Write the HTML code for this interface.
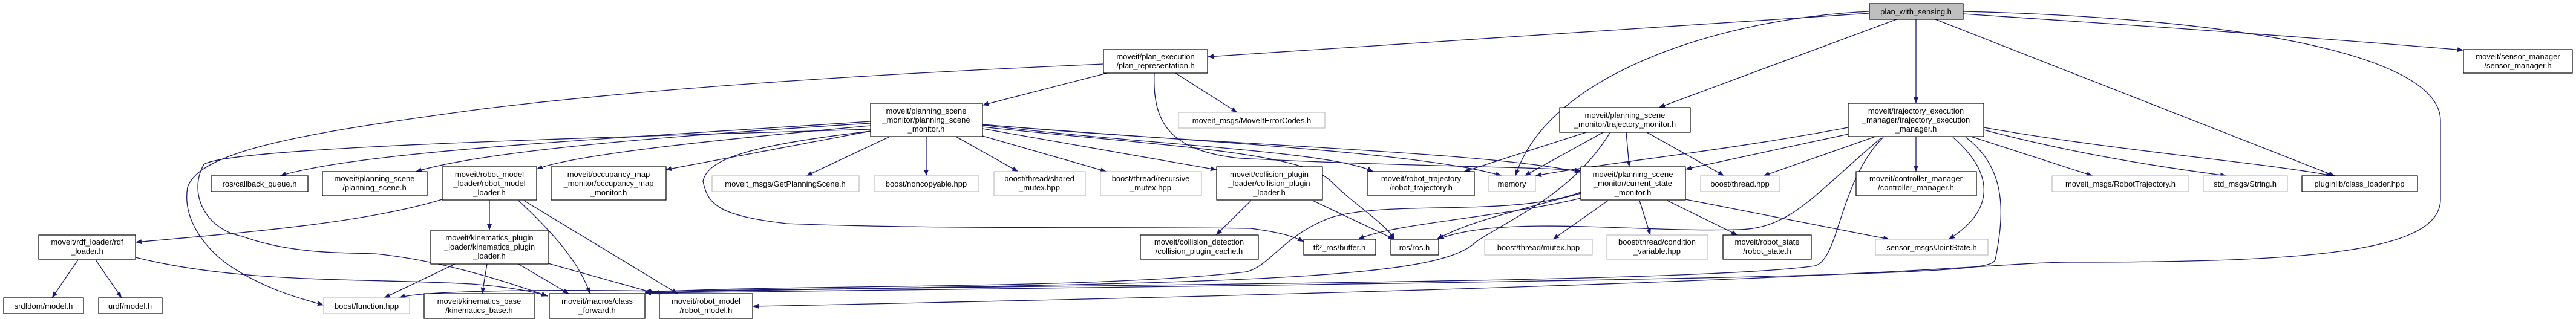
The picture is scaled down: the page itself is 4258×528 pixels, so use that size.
<!DOCTYPE html>
<html><head><meta charset="utf-8"><style>
html,body{margin:0;padding:0;background:#fff;}
svg{display:block;}
text{font-family:"Liberation Sans",sans-serif;font-size:13px;fill:#000;text-anchor:middle;}
.b{fill:#fff;stroke:#000;stroke-width:1.2;}
.g{fill:#fff;stroke:#bfbfbf;stroke-width:1.2;}
.e{fill:none;stroke:#191970;stroke-width:1.3;}
</style></head><body>
<svg width="4258" height="528" viewBox="0 0 4258 528" xmlns="http://www.w3.org/2000/svg">
<defs><marker id="a" markerWidth="10" markerHeight="8" refX="10" refY="4" orient="auto" markerUnits="userSpaceOnUse"><path d="M0,0 L10,4 L0,8 z" fill="#191970"/></marker></defs>
<g class="edges" marker-end="url(#a)">
<!-- from plan_with_sensing -->
<path class="e" d="M3090,22 L1996,94"/>
<path class="e" d="M3090,19 C2850,30 2560,120 2505,291"/>
<path class="e" d="M3135,32 L2742,178"/>
<path class="e" d="M3167,32 L3167,171"/>
<path class="e" d="M3199,32 L3859,291"/>
<path class="e" d="M3245,23 C3500,40 3800,60 4072,83"/>
<path class="e" d="M3245,19 C3700,30 4034,90 4034,200 L4034,330 C4034,420 3800,434 3420,434 C3300,434 3100,470 1244,507"/>
<!-- from trajectory execution manager -->
<path class="e" d="M3167,226 L3167,284"/>
<path class="e" d="M3258,226 L3459,291"/>
<path class="e" d="M3279,215 C3450,260 3600,280 3680,291"/>
<path class="e" d="M3279,211 C3500,250 3750,270 3855,291"/>
<path class="e" d="M3228,227 C3300,290 3295,350 3221,396"/>
<path class="e" d="M3249,227 C3320,280 3312,360 3298,430 C3290,450 3220,460 1066,485"/>
<path class="e" d="M3113,227 C3040,300 3040,430 3000,440 C2800,470 1700,470 1080,484"/>
<path class="e" d="M3055,211 C2850,250 2650,270 2538,291"/>
<path class="e" d="M3055,222 L2786,280"/>
<path class="e" d="M3100,226 L2915,291"/>
<path class="e" d="M3110,228 C3000,320 2960,380 2871,380 C2700,385 2480,355 2377,396"/>
<!-- from trajectory monitor -->
<path class="e" d="M2622,219 L2420,284"/>
<path class="e" d="M2650,219 L2520,291"/>
<path class="e" d="M2688,219 L2693,276"/>
<path class="e" d="M2722,219 L2850,291"/>
<path class="e" d="M2661,220 C2600,320 2500,360 2440,400 C2380,460 2100,470 1066,482"/>
<!-- from current state monitor -->
<path class="e" d="M2658,332 L2567,396"/>
<path class="e" d="M2710,332 L2728,389"/>
<path class="e" d="M2756,332 L2872,389"/>
<path class="e" d="M2786,330 L3123,396"/>
<path class="e" d="M2613,320 C2500,350 2420,370 2375,396"/>
<path class="e" d="M2613,328 C2480,360 2300,370 2245,396"/>
<path class="e" d="M2613,318 C2500,360 2300,330 2200,360 C2120,390 2100,440 2060,450 C1800,480 1300,470 1066,484"/>
<!-- from planning scene monitor -->
<path class="e" d="M1439,201 C1000,230 600,250 463,291"/>
<path class="e" d="M1439,204 C1100,225 800,250 687,284"/>
<path class="e" d="M1439,208 C1200,230 950,255 887,280"/>
<path class="e" d="M1439,217 L1100,281"/>
<path class="e" d="M1471,226 L1333,291"/>
<path class="e" d="M1531,226 L1531,291"/>
<path class="e" d="M1580,226 L1683,284"/>
<path class="e" d="M1624,225 L1829,284"/>
<path class="e" d="M1624,213 L2011,281"/>
<path class="e" d="M1624,207 C1900,240 2200,250 2270,284"/>
<path class="e" d="M1624,206 C1900,230 2350,250 2482,291"/>
<path class="e" d="M1624,206 C2000,240 2450,250 2613,285"/>
<path class="e" d="M1624,210 C1900,240 2150,250 2200,300 C2240,340 2290,370 2305,396"/>
<path class="e" d="M1439,214 C900,230 380,245 337,272 C310,320 340,380 400,391 C480,420 561,418 620,420 C720,430 820,460 905,490"/>
<path class="e" d="M1439,217 C1250,240 1170,260 1162,300 C1170,340 1190,357 1300,370 C1541,380 1900,375 2067,378 C2120,385 2140,392 2155,400"/>
<!-- from plan representation -->
<path class="e" d="M1830,121 L1624,174"/>
<path class="e" d="M1943,121 L2045,186"/>
<path class="e" d="M1908,121 C1905,200 1930,250 2050,262 C2300,275 2500,275 2613,282"/>
<path class="e" d="M1824,106 C1500,120 1100,143 800,180 C500,220 330,250 310,310 C300,370 350,420 380,440 C440,480 500,495 535,505"/>
<!-- robot model loader -->
<path class="e" d="M731,330 C600,370 400,385 224,401"/>
<path class="e" d="M809,331 L809,381"/>
<path class="e" d="M857,332 C920,390 960,440 975,486"/>
<path class="e" d="M866,332 L1120,486"/>
<!-- kinematics plugin loader -->
<path class="e" d="M752,437 L635,493"/>
<path class="e" d="M805,437 L797,486"/>
<path class="e" d="M857,437 L940,486"/>
<path class="e" d="M906,436 L1085,486"/>
<!-- rdf loader -->
<path class="e" d="M129,430 L86,493"/>
<path class="e" d="M158,430 L201,493"/>
<path class="e" d="M224,426 C400,470 600,460 780,470 C840,475 880,482 905,490"/>
<!-- collision plugin loader -->
<path class="e" d="M2068,332 L2010,389"/>
<path class="e" d="M2170,332 L2305,396"/>
<!-- misc bottom -->
<path class="e" d="M1090,482 C1000,480 700,478 660,493"/>
</g>
<g class="nodes">
<rect x="3090" y="6" width="155" height="26" fill="#bfbfbf" stroke="#000" stroke-width="1.2"/><text x="3167" y="24">plan_with_sensing.h</text>
<rect class="b" x="1824" y="82" width="172" height="39"/><text x="1910" y="98">moveit/plan_execution</text><text x="1910" y="113">/plan_representation.h</text>
<rect class="b" x="4072" y="82" width="180" height="39"/><text x="4162" y="98">moveit/sensor_manager</text><text x="4162" y="113">/sensor_manager.h</text>
<rect class="b" x="1439" y="171" width="185" height="55"/><text x="1531" y="188">moveit/planning_scene</text><text x="1531" y="203">_monitor/planning_scene</text><text x="1531" y="218">_monitor.h</text>
<rect class="g" x="1948" y="186" width="242" height="26"/><text x="2069" y="204">moveit_msgs/MoveItErrorCodes.h</text>
<rect class="b" x="2578" y="178" width="216" height="41"/><text x="2686" y="195">moveit/planning_scene</text><text x="2686" y="210">_monitor/trajectory_monitor.h</text>
<rect class="b" x="3055" y="171" width="224" height="55"/><text x="3167" y="188">moveit/trajectory_execution</text><text x="3167" y="203">_manager/trajectory_execution</text><text x="3167" y="218">_manager.h</text>
<rect class="b" x="349" y="291" width="160" height="26"/><text x="429" y="309">ros/callback_queue.h</text>
<rect class="b" x="533" y="284" width="173" height="40"/><text x="619" y="300">moveit/planning_scene</text><text x="619" y="315">/planning_scene.h</text>
<rect class="b" x="731" y="276" width="156" height="55"/><text x="809" y="293">moveit/robot_model</text><text x="809" y="308">_loader/robot_model</text><text x="809" y="323">_loader.h</text>
<rect class="b" x="911" y="276" width="190" height="55"/><text x="1006" y="293">moveit/occupancy_map</text><text x="1006" y="308">_monitor/occupancy_map</text><text x="1006" y="323">_monitor.h</text>
<rect class="g" x="1177" y="291" width="243" height="26"/><text x="1298" y="309">moveit_msgs/GetPlanningScene.h</text>
<rect class="g" x="1445" y="291" width="173" height="26"/><text x="1531" y="309">boost/noncopyable.hpp</text>
<rect class="g" x="1643" y="284" width="151" height="40"/><text x="1718" y="300">boost/thread/shared</text><text x="1718" y="315">_mutex.hpp</text>
<rect class="g" x="1819" y="284" width="167" height="40"/><text x="1902" y="300">boost/thread/recursive</text><text x="1902" y="315">_mutex.hpp</text>
<rect class="b" x="2011" y="276" width="175" height="55"/><text x="2098" y="293">moveit/collision_plugin</text><text x="2098" y="308">_loader/collision_plugin</text><text x="2098" y="323">_loader.h</text>
<rect class="b" x="2261" y="284" width="176" height="40"/><text x="2349" y="300">moveit/robot_trajectory</text><text x="2349" y="315">/robot_trajectory.h</text>
<rect class="g" x="2461" y="291" width="77" height="26"/><text x="2499" y="309">memory</text>
<rect class="b" x="2613" y="276" width="173" height="55"/><text x="2699" y="293">moveit/planning_scene</text><text x="2699" y="308">_monitor/current_state</text><text x="2699" y="323">_monitor.h</text>
<rect class="g" x="2811" y="291" width="131" height="26"/><text x="2876" y="309">boost/thread.hpp</text>
<rect class="b" x="3068" y="284" width="199" height="40"/><text x="3167" y="300">moveit/controller_manager</text><text x="3167" y="315">/controller_manager.h</text>
<rect class="g" x="3392" y="291" width="226" height="26"/><text x="3505" y="309">moveit_msgs/RobotTrajectory.h</text>
<rect class="g" x="3642" y="291" width="139" height="26"/><text x="3711" y="309">std_msgs/String.h</text>
<rect class="b" x="3805" y="291" width="191" height="26"/><text x="3900" y="309">pluginlib/class_loader.hpp</text>
<rect class="b" x="64" y="389" width="160" height="40"/><text x="144" y="405">moveit/rdf_loader/rdf</text><text x="144" y="420">_loader.h</text>
<rect class="b" x="712" y="381" width="194" height="56"/><text x="809" y="398">moveit/kinematics_plugin</text><text x="809" y="413">_loader/kinematics_plugin</text><text x="809" y="428">_loader.h</text>
<rect class="b" x="1885" y="389" width="195" height="40"/><text x="1982" y="405">moveit/collision_detection</text><text x="1982" y="420">/collision_plugin_cache.h</text>
<rect class="b" x="2155" y="396" width="119" height="26"/><text x="2214" y="414">tf2_ros/buffer.h</text>
<rect class="b" x="2299" y="396" width="79" height="26"/><text x="2338" y="414">ros/ros.h</text>
<rect class="g" x="2454" y="396" width="178" height="26"/><text x="2543" y="414">boost/thread/mutex.hpp</text>
<rect class="g" x="2656" y="389" width="167" height="40"/><text x="2739" y="405">boost/thread/condition</text><text x="2739" y="420">_variable.hpp</text>
<rect class="b" x="2848" y="389" width="146" height="40"/><text x="2921" y="405">moveit/robot_state</text><text x="2921" y="420">/robot_state.h</text>
<rect class="g" x="3100" y="396" width="186" height="26"/><text x="3193" y="414">sensor_msgs/JointState.h</text>
<rect class="b" x="6" y="493" width="132" height="26"/><text x="72" y="511">srdfdom/model.h</text>
<rect class="b" x="163" y="493" width="105" height="26"/><text x="215" y="511">urdf/model.h</text>
<rect class="g" x="535" y="493" width="142" height="26"/><text x="606" y="511">boost/function.hpp</text>
<rect class="b" x="701" y="486" width="183" height="41"/><text x="792" y="503">moveit/kinematics_base</text><text x="792" y="518">/kinematics_base.h</text>
<rect class="b" x="908" y="486" width="158" height="41"/><text x="987" y="503">moveit/macros/class</text><text x="987" y="518">_forward.h</text>
<rect class="b" x="1090" y="486" width="154" height="41"/><text x="1167" y="503">moveit/robot_model</text><text x="1167" y="518">/robot_model.h</text>
</g>
</svg>
</body></html>
